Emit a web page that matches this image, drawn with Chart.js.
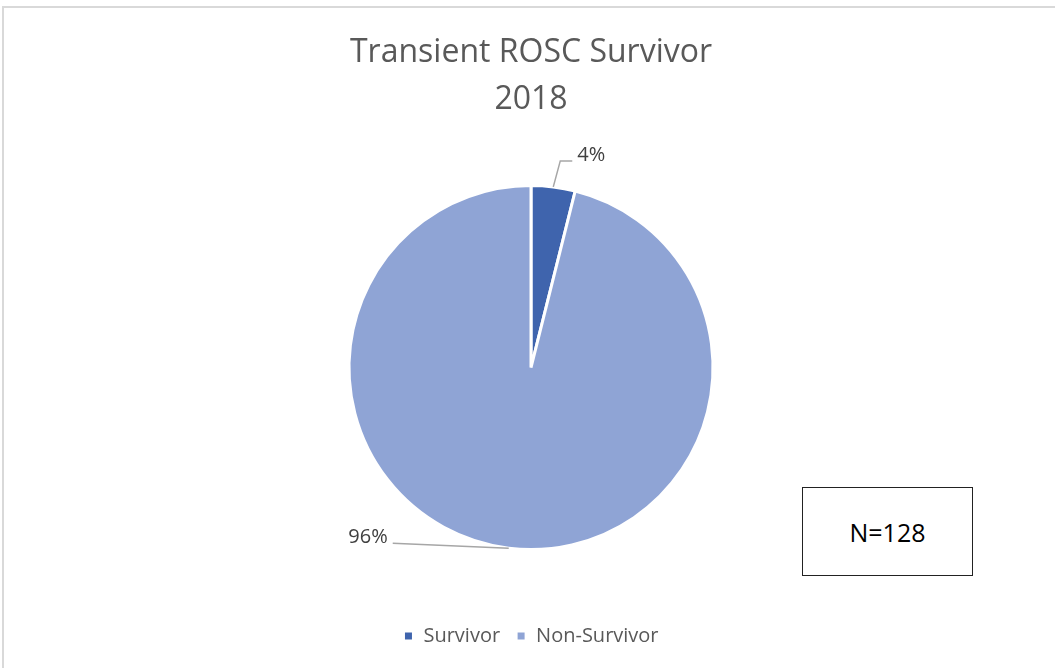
<!DOCTYPE html>
<html>
<head>
<meta charset="utf-8">
<script src="https://cdn.jsdelivr.net/npm/chart.js@4.4.0/dist/chart.umd.min.js"></script>
<style>
  body { margin: 0; background: #fff; overflow: hidden; }
  #frame { position: absolute; left: 2px; top: 6px; width: 1100px; height: 700px;
           border-left: 2px solid #d9d9d9; border-top: 2px solid #d9d9d9; }
  #wrap { position: absolute; left: 0; top: 0; width: 1055px; height: 668px; }
  #nbox { position: absolute; left: 802px; top: 487px; width: 169px; height: 87px;
          border: 1px solid #222; background: #fff; font-family: "Open Sans", sans-serif;
          font-size: 25px; color: #000; display: flex; align-items: center; justify-content: center; }
</style>
</head>
<body>
<div id="frame"></div>
<div id="wrap"><canvas id="pieChart"></canvas></div>
<div id="nbox">N=128</div>
<script>
const categories = ['Survivor', 'Non-Survivor'];
const counts = [5, 123];
const sliceColors = ['#3f64ad', '#8fa4d5'];
const titleLines = ['Transient ROSC Survivor', '2018'];

// leader line offsets from the slice edge, per slice
const leaders = [
  { dx: 7, dy: -26, run: 12 },
  { dx: -116, dy: -5, run: 0 }
];

const pctLabels = {
  id: 'pctLabels',
  afterDatasetsDraw(chart) {
    const ctx = chart.ctx;
    const meta = chart.getDatasetMeta(0);
    const total = counts.reduce((a, b) => a + b, 0);
    meta.data.forEach((arc, i) => {
      const mid = (arc.startAngle + arc.endAngle) / 2;
      const x0 = arc.x + Math.cos(mid) * arc.outerRadius;
      const y0 = arc.y + Math.sin(mid) * arc.outerRadius;
      const l = leaders[i];
      const x1 = x0 + l.dx, y1 = y0 + l.dy;
      const right = l.dx > 0;
      const x2 = x1 + (right ? l.run : -l.run);
      ctx.save();
      ctx.strokeStyle = '#a6a6a6';
      ctx.lineWidth = 1.5;
      ctx.beginPath();
      ctx.moveTo(x0, y0);
      ctx.lineTo(x1, y1);
      ctx.lineTo(x2, y1);
      ctx.stroke();
      ctx.fillStyle = '#404040';
      ctx.font = '20px "Open Sans"';
      ctx.textBaseline = 'middle';
      ctx.textAlign = right ? 'left' : 'right';
      const txt = Math.round(counts[i] / total * 100) + '%';
      ctx.fillText(txt, right ? x2 + 5 : x2 - 5, y1 - 6);
      ctx.restore();
    });
  }
};

new Chart(document.getElementById('pieChart').getContext('2d'), {
  type: 'pie',
  data: {
    labels: categories,
    datasets: [{
      data: counts,
      backgroundColor: sliceColors,
      borderColor: '#fff',
      borderWidth: 3,
      radius: 182
    }]
  },
  options: {
    responsive: true,
    maintainAspectRatio: false,
    animation: false,
    layout: { padding: { left: 7, right: 0, top: 0, bottom: 12 } },
    plugins: {
      title: {
        display: true,
        text: titleLines,
        color: '#595959',
        font: { family: 'Open Sans', size: 32, weight: 'normal', lineHeight: 1.47 },
        padding: { top: 29, bottom: 2 }
      },
      legend: {
        position: 'bottom',
        labels: {
          color: '#595959',
          font: { family: 'Open Sans', size: 20 },
          boxWidth: 10,
          boxHeight: 10,
          padding: 16
        }
      },
      tooltip: { enabled: false }
    }
  },
  plugins: [pctLabels]
});
</script>
</body>
</html>
